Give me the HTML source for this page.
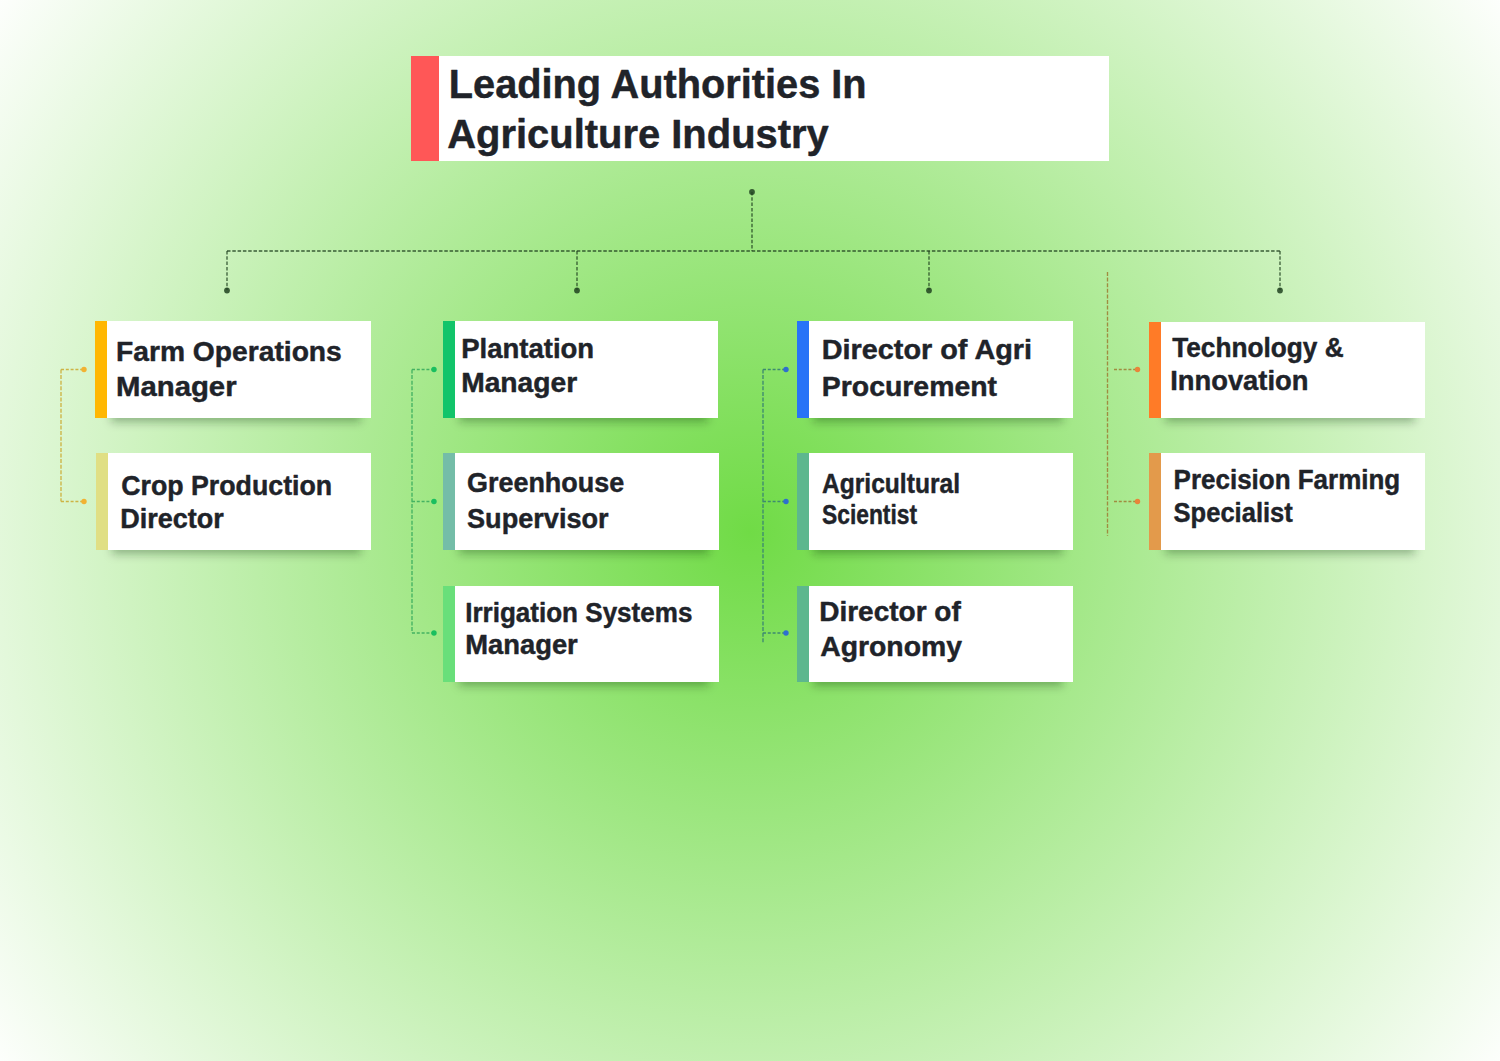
<!DOCTYPE html><html><head><meta charset="utf-8"><style>
html,body{margin:0;padding:0;width:1500px;height:1061px;overflow:hidden;background:#fff}
svg{display:block}
text{font-family:"Liberation Sans",sans-serif;font-weight:700;fill:#202329;stroke:#202329;stroke-width:0.45px;stroke-linejoin:round}
</style></head><body>
<svg width="1500" height="1061" viewBox="0 0 1500 1061">
<defs>
<radialGradient id="bg" gradientUnits="userSpaceOnUse" cx="0" cy="0" r="1" gradientTransform="translate(750 532) scale(937 930)">
<stop offset="0" stop-color="#70db46"/>
<stop offset="1" stop-color="#ffffff"/>
</radialGradient>
<filter id="sh" x="-30%" y="-200%" width="160%" height="500%"><feGaussianBlur stdDeviation="5"/></filter>
</defs>
<rect x="0" y="0" width="1500" height="1061" fill="url(#bg)"/>

<rect x="439" y="56" width="670" height="105" fill="#ffffff"/>
<rect x="411" y="56" width="28" height="105" fill="#ff5757"/>
<text x="448.80" y="98.10" font-size="40" textLength="417.80" lengthAdjust="spacingAndGlyphs">Leading Authorities In</text>
<text x="447.20" y="148.00" font-size="40" textLength="381.60" lengthAdjust="spacingAndGlyphs">Agriculture Industry</text>
<g stroke="rgba(32,66,32,0.85)" stroke-width="1.3" stroke-dasharray="3.5 1.8" fill="none">
<line x1="752" y1="192" x2="752" y2="251"/>
<line x1="227" y1="251" x2="1280" y2="251"/>
<line x1="227" y1="251" x2="227" y2="290"/>
<line x1="577" y1="251" x2="577" y2="290"/>
<line x1="929" y1="251" x2="929" y2="290"/>
<line x1="1280" y1="251" x2="1280" y2="290"/>
</g>
<g fill="rgba(32,66,32,0.85)">
<circle cx="752" cy="192" r="2.9"/>
<circle cx="227" cy="290.5" r="2.9"/>
<circle cx="577" cy="290.5" r="2.9"/>
<circle cx="929" cy="290.5" r="2.9"/>
<circle cx="1280" cy="290.5" r="2.9"/>
</g>
<g stroke="#cdb445" stroke-width="1.35" fill="none"><line x1="61" y1="369.5" x2="61" y2="501.5" stroke-dasharray="4 1.6"/><line x1="61" y1="369.5" x2="82" y2="369.5" stroke-dasharray="3 1.8"/><line x1="61" y1="501.5" x2="82" y2="501.5" stroke-dasharray="3 1.8"/></g><circle cx="84" cy="369.5" r="2.7" fill="#f2b232"/><circle cx="84" cy="501.5" r="2.7" fill="#f2b232"/>
<g stroke="#44b262" stroke-width="1.35" fill="none"><line x1="412" y1="369.5" x2="412" y2="633" stroke-dasharray="4 1.6"/><line x1="412" y1="369.5" x2="432" y2="369.5" stroke-dasharray="3 1.8"/><line x1="412" y1="501.5" x2="432" y2="501.5" stroke-dasharray="3 1.8"/><line x1="412" y1="633" x2="432" y2="633" stroke-dasharray="3 1.8"/></g><circle cx="434" cy="369.5" r="2.7" fill="#19bf5f"/><circle cx="434" cy="501.5" r="2.7" fill="#19bf5f"/><circle cx="434" cy="633" r="2.7" fill="#19bf5f"/>
<g stroke="#3d8a70" stroke-width="1.35" fill="none"><line x1="763" y1="369.5" x2="763" y2="643" stroke-dasharray="4 1.6"/><line x1="763" y1="369.5" x2="784" y2="369.5" stroke-dasharray="3 1.8"/><line x1="763" y1="501.5" x2="784" y2="501.5" stroke-dasharray="3 1.8"/><line x1="763" y1="633" x2="784" y2="633" stroke-dasharray="3 1.8"/></g><circle cx="786" cy="369.5" r="2.7" fill="#2e6fcf"/><circle cx="786" cy="501.5" r="2.7" fill="#2e6fcf"/><circle cx="786" cy="633" r="2.7" fill="#2e6fcf"/>
<g stroke="#a08c40" stroke-width="1.35" fill="none"><line x1="1107.5" y1="272" x2="1107.5" y2="536" stroke-dasharray="4 1.6"/><line x1="1114" y1="369.5" x2="1135.5" y2="369.5" stroke-dasharray="3 1.8"/><line x1="1114" y1="501.5" x2="1135.5" y2="501.5" stroke-dasharray="3 1.8"/></g><circle cx="1137.5" cy="369.5" r="2.7" fill="#e8843a"/><circle cx="1137.5" cy="501.5" r="2.7" fill="#e8843a"/>
<rect x="111" y="406" width="250" height="16" fill="rgba(0,40,0,0.32)" filter="url(#sh)"/>
<rect x="112" y="538" width="249" height="16" fill="rgba(0,40,0,0.32)" filter="url(#sh)"/>
<rect x="459" y="406" width="249" height="16" fill="rgba(0,40,0,0.32)" filter="url(#sh)"/>
<rect x="459" y="538" width="250" height="16" fill="rgba(0,40,0,0.32)" filter="url(#sh)"/>
<rect x="459" y="670" width="250" height="16" fill="rgba(0,40,0,0.32)" filter="url(#sh)"/>
<rect x="813" y="406" width="250" height="16" fill="rgba(0,40,0,0.32)" filter="url(#sh)"/>
<rect x="813" y="538" width="250" height="16" fill="rgba(0,40,0,0.32)" filter="url(#sh)"/>
<rect x="813" y="670" width="250" height="16" fill="rgba(0,40,0,0.32)" filter="url(#sh)"/>
<rect x="1165" y="406" width="250" height="16" fill="rgba(0,40,0,0.32)" filter="url(#sh)"/>
<rect x="1165" y="538" width="250" height="16" fill="rgba(0,40,0,0.32)" filter="url(#sh)"/>
<rect x="107" y="321" width="264" height="97" fill="#ffffff"/>
<rect x="95" y="321" width="12" height="97" fill="#ffb702"/>
<text x="116.00" y="360.90" font-size="28" textLength="225.80" lengthAdjust="spacingAndGlyphs">Farm Operations</text>
<text x="116.00" y="395.50" font-size="28" textLength="120.60" lengthAdjust="spacingAndGlyphs">Manager</text>
<rect x="108" y="453" width="263" height="97" fill="#ffffff"/>
<rect x="96" y="453" width="12" height="97" fill="#e0df84"/>
<text x="121.20" y="494.60" font-size="28" textLength="211.00" lengthAdjust="spacingAndGlyphs">Crop Production</text>
<text x="120.20" y="527.50" font-size="28" textLength="103.60" lengthAdjust="spacingAndGlyphs">Director</text>
<rect x="455" y="321" width="263" height="97" fill="#ffffff"/>
<rect x="443" y="321" width="12" height="97" fill="#12c46a"/>
<text x="461.20" y="358.10" font-size="28" textLength="133.00" lengthAdjust="spacingAndGlyphs">Plantation</text>
<text x="461.20" y="391.50" font-size="28" textLength="116.00" lengthAdjust="spacingAndGlyphs">Manager</text>
<rect x="455" y="453" width="264" height="97" fill="#ffffff"/>
<rect x="443" y="453" width="12" height="97" fill="#74bda8"/>
<text x="467.00" y="491.50" font-size="28" textLength="157.20" lengthAdjust="spacingAndGlyphs">Greenhouse</text>
<text x="467.00" y="527.50" font-size="28" textLength="141.60" lengthAdjust="spacingAndGlyphs">Supervisor</text>
<rect x="455" y="586" width="264" height="96" fill="#ffffff"/>
<rect x="443" y="586" width="12" height="96" fill="#69df7a"/>
<text x="465.20" y="621.70" font-size="28" textLength="227.20" lengthAdjust="spacingAndGlyphs">Irrigation Systems</text>
<text x="465.20" y="653.80" font-size="28" textLength="112.60" lengthAdjust="spacingAndGlyphs">Manager</text>
<rect x="809" y="321" width="264" height="97" fill="#ffffff"/>
<rect x="797" y="321" width="12" height="97" fill="#2873f7"/>
<text x="821.80" y="359.10" font-size="28" textLength="210.20" lengthAdjust="spacingAndGlyphs">Director of Agri</text>
<text x="821.80" y="395.50" font-size="28" textLength="175.20" lengthAdjust="spacingAndGlyphs">Procurement</text>
<rect x="809" y="453" width="264" height="97" fill="#ffffff"/>
<rect x="797" y="453" width="12" height="97" fill="#5db78e"/>
<text x="822.00" y="492.90" font-size="28" textLength="138.00" lengthAdjust="spacingAndGlyphs">Agricultural</text>
<text x="822.00" y="523.50" font-size="28" textLength="95.00" lengthAdjust="spacingAndGlyphs">Scientist</text>
<rect x="809" y="586" width="264" height="96" fill="#ffffff"/>
<rect x="797" y="586" width="12" height="96" fill="#5db78e"/>
<text x="819.20" y="620.90" font-size="28" textLength="141.60" lengthAdjust="spacingAndGlyphs">Director of</text>
<text x="820.20" y="655.50" font-size="28" textLength="141.80" lengthAdjust="spacingAndGlyphs">Agronomy</text>
<rect x="1161" y="322" width="264" height="96" fill="#ffffff"/>
<rect x="1149" y="322" width="12" height="96" fill="#ff7b27"/>
<text x="1172.20" y="357.40" font-size="28" textLength="171.40" lengthAdjust="spacingAndGlyphs">Technology &amp;</text>
<text x="1170.20" y="390.30" font-size="28" textLength="138.20" lengthAdjust="spacingAndGlyphs">Innovation</text>
<rect x="1161" y="453" width="264" height="97" fill="#ffffff"/>
<rect x="1149" y="453" width="12" height="97" fill="#e39a4b"/>
<text x="1173.60" y="489.40" font-size="28" textLength="226.60" lengthAdjust="spacingAndGlyphs">Precision Farming</text>
<text x="1173.60" y="522.30" font-size="28" textLength="119.20" lengthAdjust="spacingAndGlyphs">Specialist</text>
</svg></body></html>
